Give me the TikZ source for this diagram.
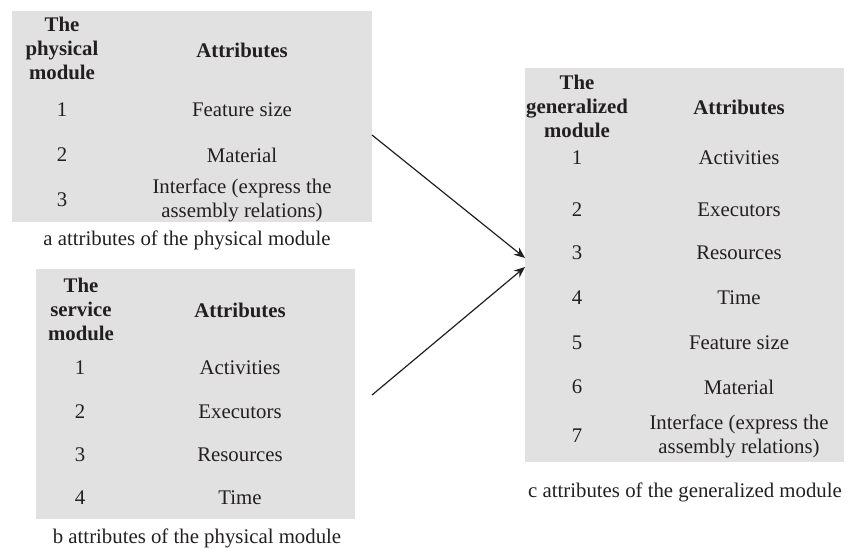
\documentclass[tikz,border=0pt]{standalone}
\usepackage{fontspec}
\setmainfont{Liberation Serif}
\usetikzlibrary{arrows.meta}
\definecolor{cellgray}{HTML}{E1E1E1}
\definecolor{ink}{HTML}{231F20}
\begin{document}
\begin{tikzpicture}[x=0.5pt,y=-0.5pt,
  every node/.style={font=\fontsize{10.4}{12}\selectfont, text=ink, inner sep=0pt},
  tablebox/.style={fill=cellgray, draw=none, rectangle},
  head/.style={font=\fontsize{10.4}{12}\selectfont\bfseries, align=center},
  cell/.style={align=center},
  caption/.style={},
  link/.style={draw=ink, line width=0.6pt, -{Stealth[length=5.5pt,width=4.5pt]}}]
\useasboundingbox (0,0) rectangle (854,548);

% ---- table a: physical module
\node[tablebox, minimum width=180pt, minimum height=105.5pt] (boxA) at (192,116.5) {};
\node[head] (aH1) at (62,48) {The\\physical\\module};
\node[head] (aH2) at (242,50) {Attributes};
\node[cell] (a1n) at (62,110) {1};
\node[cell] (a1t) at (242,110) {Feature size};
\node[cell] (a2n) at (62,155) {2};
\node[cell] (a2t) at (242,155) {Material};
\node[cell] (a3n) at (62,200) {3};
\node[cell] (a3t) at (242,200) {Interface (express the\\assembly relations)};
\node[caption] (capA) at (187,240) {a attributes of the physical module};

% ---- table b: service module
\node[tablebox, minimum width=159.5pt, minimum height=125pt] (boxB) at (195.5,394) {};
\node[head] (bH1) at (81,309) {The\\service\\module};
\node[head] (bH2) at (240,310) {Attributes};
\node[cell] (b1n) at (80,368) {1};
\node[cell] (b1t) at (240,368) {Activities};
\node[cell] (b2n) at (80,412) {2};
\node[cell] (b2t) at (240,412) {Executors};
\node[cell] (b3n) at (80,455) {3};
\node[cell] (b3t) at (240,455) {Resources};
\node[cell] (b4n) at (80,498) {4};
\node[cell] (b4t) at (240,498) {Time};
\node[caption] (capB) at (197,538) {b attributes of the physical module};

% ---- table c: generalized module
\node[tablebox, minimum width=159.5pt, minimum height=197pt] (boxC) at (684.5,265) {};
\node[head] (cH1) at (577,106) {The\\generalized\\module};
\node[head] (cH2) at (739,107) {Attributes};
\node[cell] (c1n) at (577,158) {1};
\node[cell] (c1t) at (739,158) {Activities};
\node[cell] (c2n) at (577,210) {2};
\node[cell] (c2t) at (739,210) {Executors};
\node[cell] (c3n) at (577,253) {3};
\node[cell] (c3t) at (739,253) {Resources};
\node[cell] (c4n) at (577,298) {4};
\node[cell] (c4t) at (739,298) {Time};
\node[cell] (c5n) at (577,343) {5};
\node[cell] (c5t) at (739,343) {Feature size};
\node[cell] (c6n) at (577,387) {6};
\node[cell] (c6t) at (739,387) {Material};
\node[cell] (c7n) at (577,436) {7};
\node[cell] (c7t) at (739,436) {Interface (express the\\assembly relations)};
\node[caption] (capC) at (685,492) {c attributes of the generalized module};

% ---- arrows into the generalized table
\coordinate (outA) at (372,135);
\coordinate (outB) at (372,395);
\coordinate (inA) at (525,258);
\coordinate (inB) at (525,267);
\draw[link] (outA) -- (inA);
\draw[link] (outB) -- (inB);
\end{tikzpicture}
\end{document}
